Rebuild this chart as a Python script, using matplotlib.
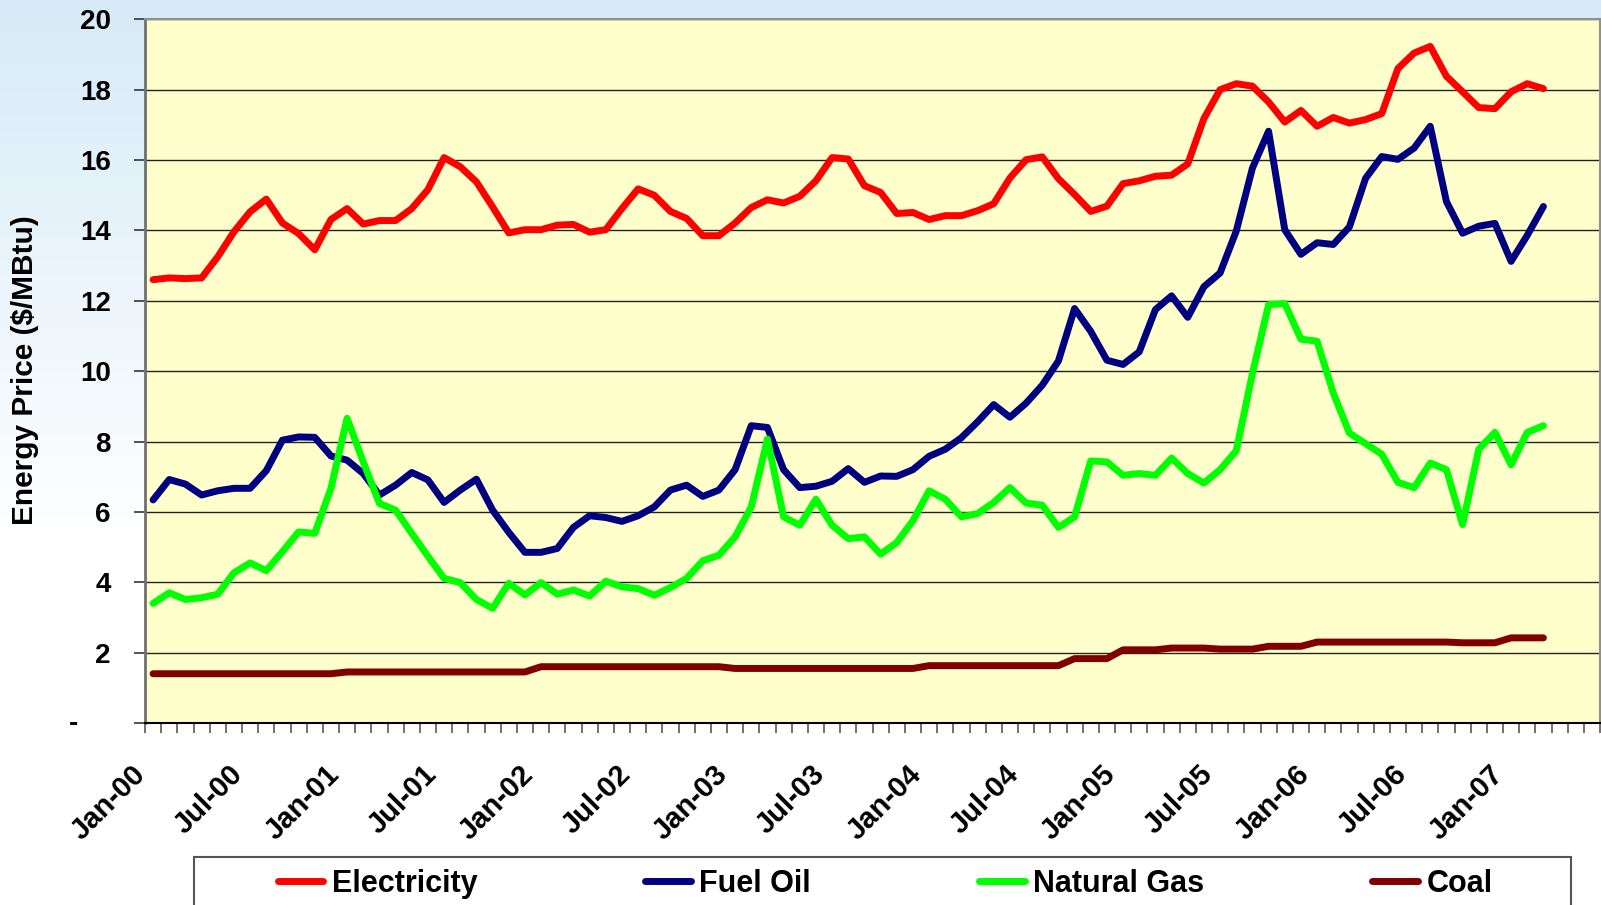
import numpy as np
import matplotlib
matplotlib.use("Agg")
import matplotlib.pyplot as plt
import matplotlib.transforms as mtransforms
from matplotlib.patches import Rectangle
from matplotlib.lines import Line2D

plt.rcParams['font.family'] = ['Liberation Sans', 'DejaVu Sans']
plt.rcParams['font.weight'] = 'bold'

# ---------------- data ----------------
n_categories = 90  # Jan-00 .. Jun-07 on the category axis
tick_label_pos = [0, 6, 12, 18, 24, 30, 36, 42, 48, 54, 60, 66, 72, 78, 84]
tick_labels = ["Jan-00", "Jul-00", "Jan-01", "Jul-01", "Jan-02", "Jul-02", "Jan-03",
               "Jul-03", "Jan-04", "Jul-04", "Jan-05", "Jul-05", "Jan-06", "Jul-06", "Jan-07"]

electricity = [12.60, 12.65, 12.63, 12.65, 13.25, 13.96, 14.53, 14.89, 14.21, 13.91, 13.45, 14.31, 14.62, 14.18, 14.28,
               14.28, 14.62, 15.16, 16.07, 15.81, 15.38, 14.67, 13.93, 14.02, 14.02, 14.15, 14.17, 13.95, 14.02, 14.62,
               15.18, 15.00, 14.54, 14.34, 13.85, 13.85, 14.21, 14.65, 14.87, 14.78, 14.97, 15.41, 16.07, 16.03, 15.27,
               15.08, 14.48, 14.51, 14.31, 14.42, 14.42, 14.56, 14.76, 15.49, 16.01, 16.09, 15.47, 15.02, 14.54, 14.69,
               15.33, 15.41, 15.54, 15.57, 15.89, 17.18, 18.00, 18.17, 18.10, 17.65, 17.08, 17.41, 16.96, 17.21, 17.05,
               17.15, 17.32, 18.60, 19.04, 19.23, 18.38, 17.94, 17.49, 17.46, 17.94, 18.17, 18.03]

fuel_oil = [6.34, 6.92, 6.79, 6.48, 6.60, 6.67, 6.67, 7.17, 8.04, 8.13, 8.12, 7.59, 7.47, 7.09, 6.48,
            6.76, 7.12, 6.91, 6.27, 6.62, 6.93, 6.05, 5.42, 4.85, 4.85, 4.96, 5.56, 5.89, 5.84, 5.73,
            5.89, 6.14, 6.62, 6.76, 6.44, 6.62, 7.20, 8.45, 8.40, 7.20, 6.69, 6.73, 6.87, 7.23, 6.84,
            7.02, 7.01, 7.20, 7.58, 7.78, 8.11, 8.56, 9.05, 8.69, 9.09, 9.60, 10.29, 11.78, 11.13, 10.31,
            10.19, 10.55, 11.75, 12.14, 11.53, 12.40, 12.79, 13.98, 15.77, 16.82, 14.02, 13.32, 13.65, 13.60, 14.10,
            15.48, 16.10, 16.02, 16.34, 16.96, 14.82, 13.92, 14.12, 14.20, 13.12, 13.86, 14.68]

natural_gas = [3.40, 3.70, 3.51, 3.56, 3.66, 4.27, 4.55, 4.33, 4.87, 5.43, 5.39, 6.67, 8.66, 7.42, 6.24,
               6.05, 5.39, 4.74, 4.11, 3.99, 3.51, 3.26, 3.97, 3.64, 3.99, 3.66, 3.78, 3.61, 4.03, 3.87,
               3.82, 3.63, 3.85, 4.11, 4.61, 4.77, 5.29, 6.14, 8.07, 5.86, 5.62, 6.36, 5.62, 5.24, 5.29,
               4.80, 5.13, 5.75, 6.60, 6.36, 5.86, 5.95, 6.27, 6.69, 6.25, 6.19, 5.56, 5.86, 7.45, 7.42,
               7.04, 7.09, 7.04, 7.53, 7.09, 6.82, 7.20, 7.74, 9.93, 11.89, 11.92, 10.91, 10.85, 9.38, 8.24,
               7.94, 7.64, 6.84, 6.69, 7.39, 7.20, 5.64, 7.78, 8.26, 7.34, 8.26, 8.45]

coal = [1.40, 1.40, 1.40, 1.40, 1.40, 1.40, 1.40, 1.40, 1.40, 1.40, 1.40, 1.40, 1.45, 1.45, 1.45,
        1.45, 1.45, 1.45, 1.45, 1.45, 1.45, 1.45, 1.45, 1.45, 1.60, 1.60, 1.60, 1.60, 1.60, 1.60,
        1.60, 1.60, 1.60, 1.60, 1.60, 1.60, 1.55, 1.55, 1.55, 1.55, 1.55, 1.55, 1.55, 1.55, 1.55,
        1.55, 1.55, 1.55, 1.63, 1.63, 1.63, 1.63, 1.63, 1.63, 1.63, 1.63, 1.63, 1.83, 1.83, 1.83,
        2.08, 2.08, 2.08, 2.13, 2.13, 2.13, 2.10, 2.10, 2.10, 2.18, 2.18, 2.18, 2.30, 2.30, 2.30,
        2.30, 2.30, 2.30, 2.30, 2.30, 2.30, 2.28, 2.28, 2.28, 2.42, 2.42, 2.42]

series_names = ["Electricity", "Fuel Oil", "Natural Gas", "Coal"]
series_colors = ["#FF0000", "#000080", "#00FF00", "#800000"]
y_ticks = [0, 2, 4, 6, 8, 10, 12, 14, 16, 18, 20]
y_ticklabels = ["", "2", "4", "6", "8", "10", "12", "14", "16", "18", "20"]

# ---------------- figure ----------------
W, H = 1601, 905
fig = plt.figure(figsize=(W / 100, H / 100), dpi=100)

# soft blue-to-white background
bg = fig.add_axes([0, 0, 1, 1], zorder=-10)
t = np.linspace(0, 1, 400)[:, None]
blend = np.clip(t / 0.6, 0, 1)
top = np.array([0.84, 0.92, 0.97])
white = np.array([1.0, 1.0, 1.0])
img = top[None, None, :] * (1 - blend[:, :, None]) + white[None, None, :] * blend[:, :, None]
img = np.repeat(img, 2, axis=1)
bg.imshow(img, aspect='auto', extent=[0, 1, 0, 1])
bg.axis('off')

left, right, top_px, bottom_px = 145, 1600, 19.3, 723
ax = fig.add_axes([left / W, (H - bottom_px) / H, (right - left) / W, (bottom_px - top_px) / H])
ax.set_facecolor('#FFFFCC')
ax.set_xlim(-0.5, n_categories - 0.5)
ax.set_ylim(0, 20)

x = np.arange(len(electricity))
for vals, name, col in zip([electricity, fuel_oil, natural_gas, coal], series_names, series_colors):
    ax.plot(x, vals, color=col, lw=5.0, solid_capstyle='round', solid_joinstyle='round', zorder=3)

# grid and y axis
ax.set_yticks(y_ticks)
ax.set_yticklabels(y_ticklabels, fontsize=20, fontweight='bold')
ax.yaxis.grid(True, color='#222222', lw=1.0)
ax.set_axisbelow(True)
ax.tick_params(axis='y', length=7.7, width=1.3, color='#444444', pad=17)

# x axis: ticks at category boundaries
ax.set_xticks(np.arange(-0.5, n_categories, 1))
ax.set_xticklabels([])
ax.tick_params(axis='x', length=7.2, width=1.3, color='#666666')

off = mtransforms.ScaledTranslation(0, -0.47, fig.dpi_scale_trans)
for p, lab in zip(tick_label_pos, tick_labels):
    ax.text(p - 0.75, 0, lab, transform=ax.get_xaxis_transform() + off,
            rotation=45, ha='right', va='center', rotation_mode='anchor',
            fontsize=21, fontweight='bold')

fig.text(78 / W, 1 - 724 / H, '-', ha='right', va='center', fontsize=20, fontweight='bold')

ax.spines['left'].set_color('#707070'); ax.spines['left'].set_linewidth(2)
ax.spines['bottom'].set_color('#000000'); ax.spines['bottom'].set_linewidth(1.5)
for s in ['top', 'right']:
    ax.spines[s].set_color('#909090'); ax.spines[s].set_linewidth(1.5)

fig.text(25 / W, 1 - 370 / H, 'Energy Price ($/MBtu)', rotation=90, ha='center', va='center',
         fontsize=21.5, fontweight='bold')

# legend
frame = Rectangle((194 / W, -0.05), (1571 - 194) / W, (H - 857) / H + 0.05, transform=fig.transFigure,
                  facecolor='white', edgecolor='#555555', lw=1.5, zorder=1)
fig.add_artist(frame)
handles = [Line2D([0], [0], color=c, lw=5.0, solid_capstyle='round') for c in series_colors]
leg = fig.legend(handles, series_names, loc='center', bbox_to_anchor=(885 / W, 1 - 884 / H), ncol=4,
                 frameon=False, prop={'size': 22, 'weight': 'bold'}, handlelength=1.5,
                 handletextpad=0.27, columnspacing=5.5)
leg.set_zorder(5)

fig.savefig('out.png', dpi=100)
